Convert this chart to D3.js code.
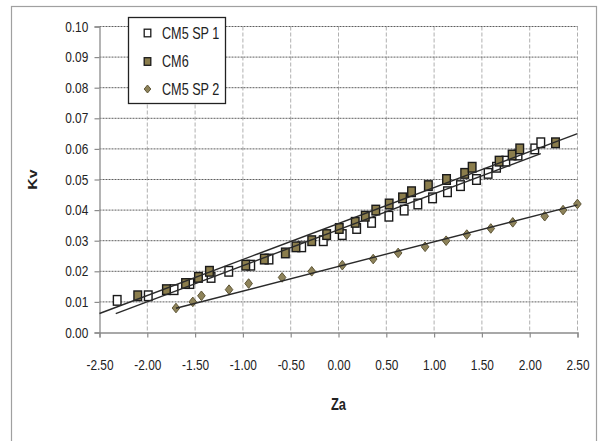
<!DOCTYPE html>
<html>
<head>
<meta charset="utf-8">
<script src="https://cdn.jsdelivr.net/npm/d3@7"></script>
<style>
  html, body { margin: 0; padding: 0; background: #fff; }
  svg { display: block; }
  text { font-family: "Liberation Sans", Arial, sans-serif; fill: #222; }
</style>
</head>
<body>
<svg id="chart" width="598" height="441"></svg>
<script>
// Kv against Za for three test series
const zaSP1 = [-2.315, -1.99, -1.72, -1.555, -1.333, -1.148, -0.918, -0.727, -0.385, -0.159,
               0.039, 0.19, 0.346, 0.527, 0.687, 0.83, 0.984, 1.14, 1.276, 1.443,
               1.565, 1.653, 1.75, 1.878, 2.053, 2.116];
const kvSP1 = [0.0105, 0.012, 0.014, 0.016, 0.018, 0.020, 0.022, 0.024, 0.028, 0.030,
               0.032, 0.034, 0.036, 0.038, 0.040, 0.042, 0.044, 0.046, 0.048, 0.050,
               0.052, 0.054, 0.056, 0.058, 0.060, 0.062];

const zaCM6 = [-2.10, -1.80, -1.60, -1.465, -1.35, -0.97, -0.776, -0.556, -0.445, -0.28,
               -0.124, 0.008, 0.175, 0.28, 0.39, 0.53, 0.67, 0.764, 0.94, 1.13,
               1.32, 1.398, 1.68, 1.816, 1.896, 2.27];
const kvCM6 = [0.012, 0.014, 0.016, 0.018, 0.020, 0.022, 0.024, 0.026, 0.028, 0.030,
               0.032, 0.034, 0.036, 0.038, 0.040, 0.042, 0.044, 0.046, 0.048, 0.050,
               0.052, 0.054, 0.056, 0.058, 0.060, 0.062];

const zaSP2 = [-1.70, -1.524, -1.434, -1.145, -0.94, -0.59, -0.28, 0.04, 0.363, 0.624,
               0.906, 1.126, 1.342, 1.593, 1.823, 2.157, 2.349, 2.499];
const kvSP2 = [0.008, 0.010, 0.012, 0.014, 0.016, 0.018, 0.020, 0.022, 0.024, 0.026,
               0.028, 0.030, 0.032, 0.034, 0.036, 0.038, 0.040, 0.042];

// linear trendlines: Kv = intercept + slope * Za over the given Za span
const trendSlope     = [0.01176, 0.01176, 0.00805];
const trendIntercept = [0.0336, 0.0356, 0.0216];
const trendFrom      = [-2.33, -2.5, -1.70];
const trendTo        = [2.116, 2.5, 2.5];

const seriesNames = ["CM5 SP 1", "CM6", "CM5 SP 2"];
const xTicks = [-2.5, -2.0, -1.5, -1.0, -0.5, 0.0, 0.5, 1.0, 1.5, 2.0, 2.5];
const yTicks = [0.00, 0.01, 0.02, 0.03, 0.04, 0.05, 0.06, 0.07, 0.08, 0.09, 0.10];

const svg = d3.select("#chart");
const plot = { left: 99.5, right: 577.5, top: 26.5, bottom: 332.5 };
const NARROW = 0.82; // horizontal squeeze giving a condensed face

const x = d3.scaleLinear().domain([-2.5, 2.5]).range([plot.left, plot.right]);
const y = d3.scaleLinear().domain([0, 0.10]).range([plot.bottom, plot.top]);
const fmt = d => d3.format(".2f")(d).replace("\u2212", "-");

// outer chart border
svg.append("rect")
  .attr("x", 11.5).attr("y", 6.5).attr("width", 585).attr("height", 460)
  .attr("fill", "#fff").attr("stroke", "#a0a0a0").attr("stroke-width", 1.2);

// grid
svg.append("g").selectAll("line").data(xTicks.slice(1)).join("line")
  .attr("x1", d => x(d)).attr("x2", d => x(d))
  .attr("y1", plot.top).attr("y2", plot.bottom)
  .attr("stroke", "#b0b0b0").attr("stroke-width", 1).attr("stroke-dasharray", "4,2");
svg.append("g").selectAll("line").data(yTicks.slice(1)).join("line")
  .attr("x1", plot.left).attr("x2", plot.right)
  .attr("y1", d => y(d)).attr("y2", d => y(d))
  .attr("stroke", "#5e5e5e").attr("stroke-width", 1).attr("stroke-dasharray", "2,1");

// axes
const yAxis = svg.append("g").attr("transform", `translate(${plot.left},0)`)
  .call(d3.axisLeft(y).tickValues(yTicks).tickFormat(fmt).tickSize(5).tickPadding(6));
const xAxis = svg.append("g").attr("transform", `translate(0,${plot.bottom})`)
  .call(d3.axisBottom(x).tickValues(xTicks).tickFormat(fmt).tickSize(5).tickPadding(6));
[yAxis, xAxis].forEach(a => {
  a.select(".domain").attr("stroke", "#8c8c8c").attr("stroke-width", 1.3);
  a.selectAll(".tick line").attr("stroke", "#8c8c8c").attr("stroke-width", 1.2);
  a.selectAll("text").attr("font-size", 14.5).attr("fill", "#222")
    .style("font-family", '"Liberation Sans", Arial, sans-serif')
    .attr("transform", `scale(${NARROW},1)`);
});
yAxis.selectAll(".tick text").attr("x", -11.2 / NARROW);
xAxis.selectAll(".tick text").attr("y", 32).attr("dy", "0.35em");

// axis titles
svg.append("text")
  .attr("transform", `translate(${x(0)},404) scale(0.76,1)`)
  .attr("dy", "0.35em").attr("text-anchor", "middle")
  .attr("font-size", 17).attr("font-weight", "bold").attr("fill", "#111")
  .text("Za");
svg.append("text")
  .attr("transform", `translate(33,${(plot.top + plot.bottom) / 2}) scale(0.8,1) rotate(-90)`)
  .attr("dy", "0.35em").attr("text-anchor", "middle")
  .attr("font-size", 16).attr("font-weight", "bold").attr("fill", "#111")
  .text("Kv");

// marker styles
const styles = [
  { fill: "#ffffff", stroke: "#1a1a1a", shape: "square" },
  { fill: "#8b7d4c", stroke: "#1a1a1a", shape: "square" },
  { fill: "#8e835a", stroke: "#5e5535", shape: "diamond" }
];
function marker(g, st, w, h, sw) {
  if (st.shape === "square") {
    g.append("rect").attr("x", -w / 2).attr("y", -h / 2).attr("width", w).attr("height", h)
      .attr("fill", st.fill).attr("stroke", st.stroke).attr("stroke-width", sw);
  } else {
    g.append("path").attr("d", `M0,${-h / 2}L${w / 2},0L0,${h / 2}L${-w / 2},0Z`)
      .attr("fill", st.fill).attr("stroke", st.stroke).attr("stroke-width", 1);
  }
}

const series = [
  { za: zaSP1, kv: kvSP1 },
  { za: zaCM6, kv: kvCM6 },
  { za: zaSP2, kv: kvSP2 }
];

series.forEach((s, i) => {
  const g = svg.append("g");
  s.za.forEach((z, j) => {
    const m = g.append("g").attr("transform", `translate(${x(z)},${y(s.kv[j])})`);
    marker(m, styles[i], 7.6, 9.6, 1.4);
  });
});

// trendlines
seriesNames.forEach((_, i) => {
  const f = z => trendIntercept[i] + trendSlope[i] * z;
  svg.append("line")
    .attr("x1", x(trendFrom[i])).attr("y1", y(f(trendFrom[i])))
    .attr("x2", x(trendTo[i])).attr("y2", y(f(trendTo[i])))
    .attr("stroke", "#2a2a2a").attr("stroke-width", 1.4);
});

// legend
const lg = svg.append("g");
lg.append("rect").attr("x", 128.5).attr("y", 17.5).attr("width", 97).attr("height", 86)
  .attr("fill", "#fff").attr("stroke", "#222").attr("stroke-width", 1.3);
const legendY = [33, 61.5, 89];
seriesNames.forEach((name, i) => {
  const m = lg.append("g").attr("transform", `translate(147.5,${legendY[i]})`);
  marker(m, styles[i], styles[i].shape === "square" ? 6.6 : 6.6, styles[i].shape === "square" ? 7.6 : 8, 1.3);
  lg.append("text").attr("transform", `translate(162,${legendY[i]}) scale(0.79,1)`)
    .attr("dy", "0.36em").attr("font-size", 16).attr("fill", "#222").text(name);
});
</script>
</body>
</html>
